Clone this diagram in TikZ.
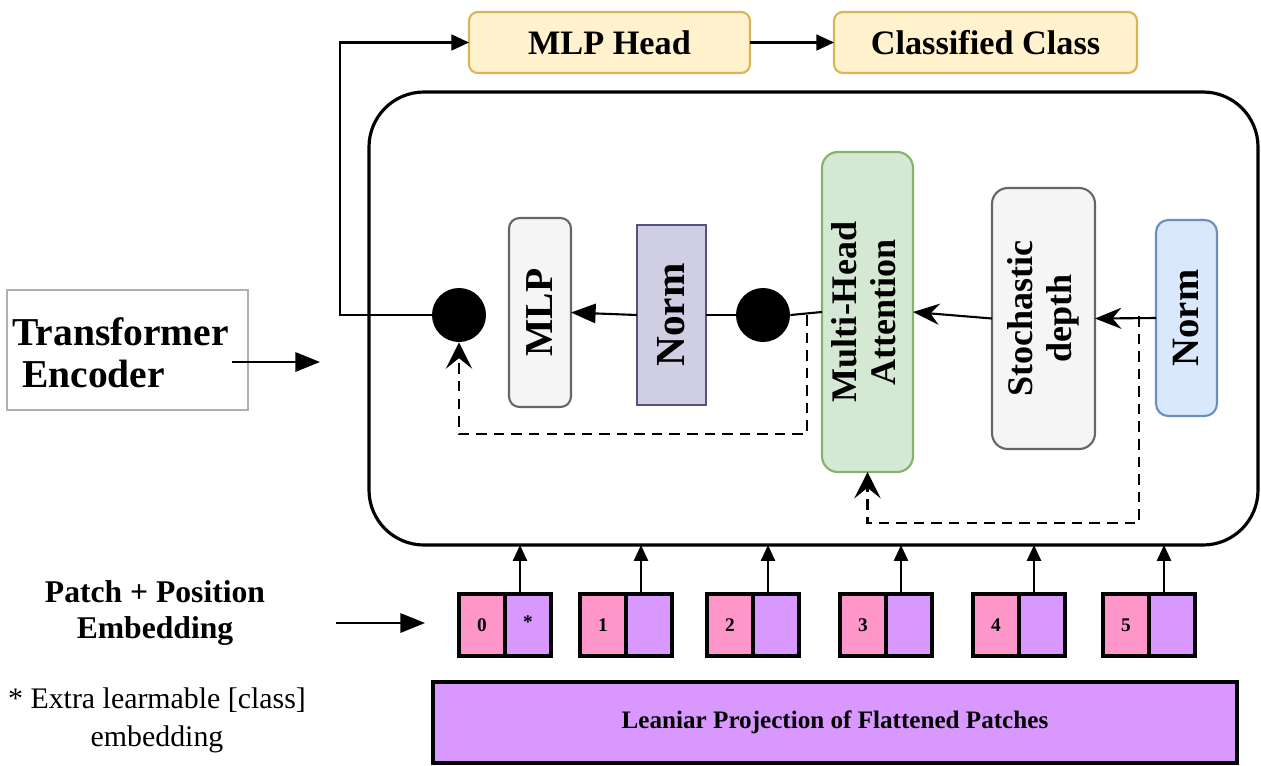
\documentclass[tikz,border=0pt]{standalone}
\usepackage{fontspec}
\setmainfont{Liberation Serif}
\usetikzlibrary{arrows.meta,positioning}

\definecolor{yelfill}{HTML}{FFF2CC}
\definecolor{yeldraw}{HTML}{D6B656}
\definecolor{grayfill}{HTML}{F5F5F5}
\definecolor{graydraw}{HTML}{666666}
\definecolor{purfill}{HTML}{D0CEE2}
\definecolor{purdraw}{HTML}{56517E}
\definecolor{grnfill}{HTML}{D5E8D4}
\definecolor{grndraw}{HTML}{82B366}
\definecolor{blufill}{HTML}{DAE8FC}
\definecolor{bludraw}{HTML}{6C8EBF}
\definecolor{tokpink}{HTML}{FF96CA}
\definecolor{toklilac}{HTML}{D898FD}
\definecolor{framegray}{HTML}{B0B0B0}

\def\u{0.02cm}
\newcommand{\fs}[1]{\fontsize{#1}{26}\selectfont}

\tikzset{
  box/.style n args={2}{minimum width=#1*\u, minimum height=#2*\u, inner sep=0pt, outer sep=0pt},
  headbox/.style={draw=yeldraw, fill=yelfill, line width=1.2pt, rounded corners=5pt,
    font=\fontsize{19.5}{23}\selectfont\bfseries},
  layerbox/.style={line width=1.2pt, font=\fontsize{20.5}{24}\selectfont\bfseries, align=center},
  dot/.style={circle, fill=black, minimum size=54*\u, inner sep=0pt},
  tokbox/.style={draw=black, line width=1.8pt, minimum width=46*\u, minimum height=62*\u,
    inner sep=0pt, outer sep=0pt, font=\fontsize{11}{12}\selectfont\bfseries},
  flow/.style={line width=1.2pt, -{Triangle[length=10pt,width=9pt]}},
  longflow/.style={line width=1.2pt, -{Triangle[length=14pt,width=11pt]}},
  bigflow/.style={line width=1.2pt, -{Triangle[length=14pt,width=11pt]}},
  stflow/.style={line width=1.2pt, -{Stealth[length=15pt,width=12pt,inset=5pt]}},
  skip/.style={line width=1.2pt, dashed, dash pattern=on 6pt off 4pt,
    -{Stealth[length=15pt,width=15pt,inset=6pt]}},
  plain/.style={line width=1.2pt},
}

\begin{document}
\begin{tikzpicture}[x=0.02cm, y=-0.02cm]
\useasboundingbox (0,0) rectangle (1261,765);

% classification head
\node[headbox, box={281}{61}] (mlphead) at (609.5,42.5) {MLP Head};
\node[headbox, box={303}{61}] (cls) at (985.5,42.5) {Classified Class};
\draw[flow] (mlphead.east) -- (cls.west);

% encoder frame
\node[draw, line width=1.8pt, rounded corners=1.1cm, box={889}{453}] (enc) at (813.5,318.5) {};

% encoder label
\node[draw=framegray, line width=0.6pt, box={241}{120}] (teframe) at (127.5,350) {};
\node[anchor=west, align=left, font=\fontsize{22.5}{24}\selectfont\bfseries, inner sep=0pt]
  (tetext) at (12,353) {Transformer\\\ Encoder};
\coordinate (teout) at (232,362);
\coordinate (encin) at (320,362);
\draw[longflow] (teout) -- (encin);

% residual adders
\node[dot] (c1) at (459,315) {};
\node[dot] (c2) at (763,315) {};

% blocks inside the encoder
\node[layerbox, draw=graydraw, fill=grayfill, rounded corners=6pt, box={62}{189}] (mlp) at (540,312.5)
  {\rotatebox{90}{\fs{22.5}MLP}};
\node[layerbox, draw=purdraw, fill=purfill, box={69}{180}] (norma) at (671.5,315)
  {\rotatebox{90}{\fs{23.5}Norm}};
\node[layerbox, draw=grndraw, fill=grnfill, rounded corners=9pt, box={91}{320}] (mha) at (867.5,312)
  {\rotatebox{90}{\begin{tabular}{@{}c@{}}Multi-Head\\[-2pt]Attention\end{tabular}}};
\node[layerbox, draw=graydraw, fill=grayfill, rounded corners=9pt, box={103}{261}] (stoch) at (1043.5,318.5)
  {\rotatebox{90}{\begin{tabular}{@{}c@{}}Stochastic\\[-2pt]depth\end{tabular}}};
\node[layerbox, draw=bludraw, fill=blufill, rounded corners=7pt, box={61}{196}] (normb) at (1186.5,318)
  {\rotatebox{90}{\fs{22}Norm}};

% main path
\draw[stflow] (normb.west) -- (stoch.east);
\draw[stflow] (stoch.west) -- (mha.east);
\draw[plain] (mha.west) -- (c2.east);
\draw[plain] (c2.west) -- (norma.east);
\draw[bigflow] (norma.west) -- (mlp.east);
\draw[flow] (c1.west) -- ++(-92,0) |- (mlphead.west);

% skip connections
\coordinate (tapa) at (807,315);
\coordinate (tapb) at (1139,316);
\draw[skip] (tapa) -- (807,434) -| (c1.south);
\draw[skip] (tapb) -- (1139,523) -| (mha.south);

% patch + position embeddings
\node[align=center, font=\fontsize{18}{20}\selectfont\bfseries] (patchlbl) at (155,613)
  {Patch + Position\\Embedding};
\coordinate (pin) at (336,623);
\coordinate (pout) at (425,623);
\draw[longflow] (pin) -- (pout);

\foreach \i/\lab/\sym/\xx in {0/0/*/482, 1/1//603, 2/2//730, 3/3//863, 4/4//996, 5/5//1126} {
  \node[tokbox, fill=tokpink] (p\i) at (\xx,625) {\lab};
  \node[tokbox, fill=toklilac, right=0pt of p\i] (q\i) {\raisebox{3pt}{\sym}};
  \coordinate (up\i) at ([xshift=-8*\u]q\i.north);
  \draw[line width=1.2pt, -{Triangle[length=9pt,width=8pt]}] (up\i) -- (up\i |- enc.south);
}

% linear projection
\node[draw=black, fill=toklilac, line width=1.8pt, box={804}{81},
  font=\fontsize{14.3}{16}\selectfont\bfseries] (proj) at (835,722.5)
  {Leaniar Projection of Flattened Patches};

% footnote
\node[align=center, font=\fontsize{17}{21.5}\selectfont] (note) at (157,720)
  {* Extra learmable [class]\\embedding};
\end{tikzpicture}
\end{document}
